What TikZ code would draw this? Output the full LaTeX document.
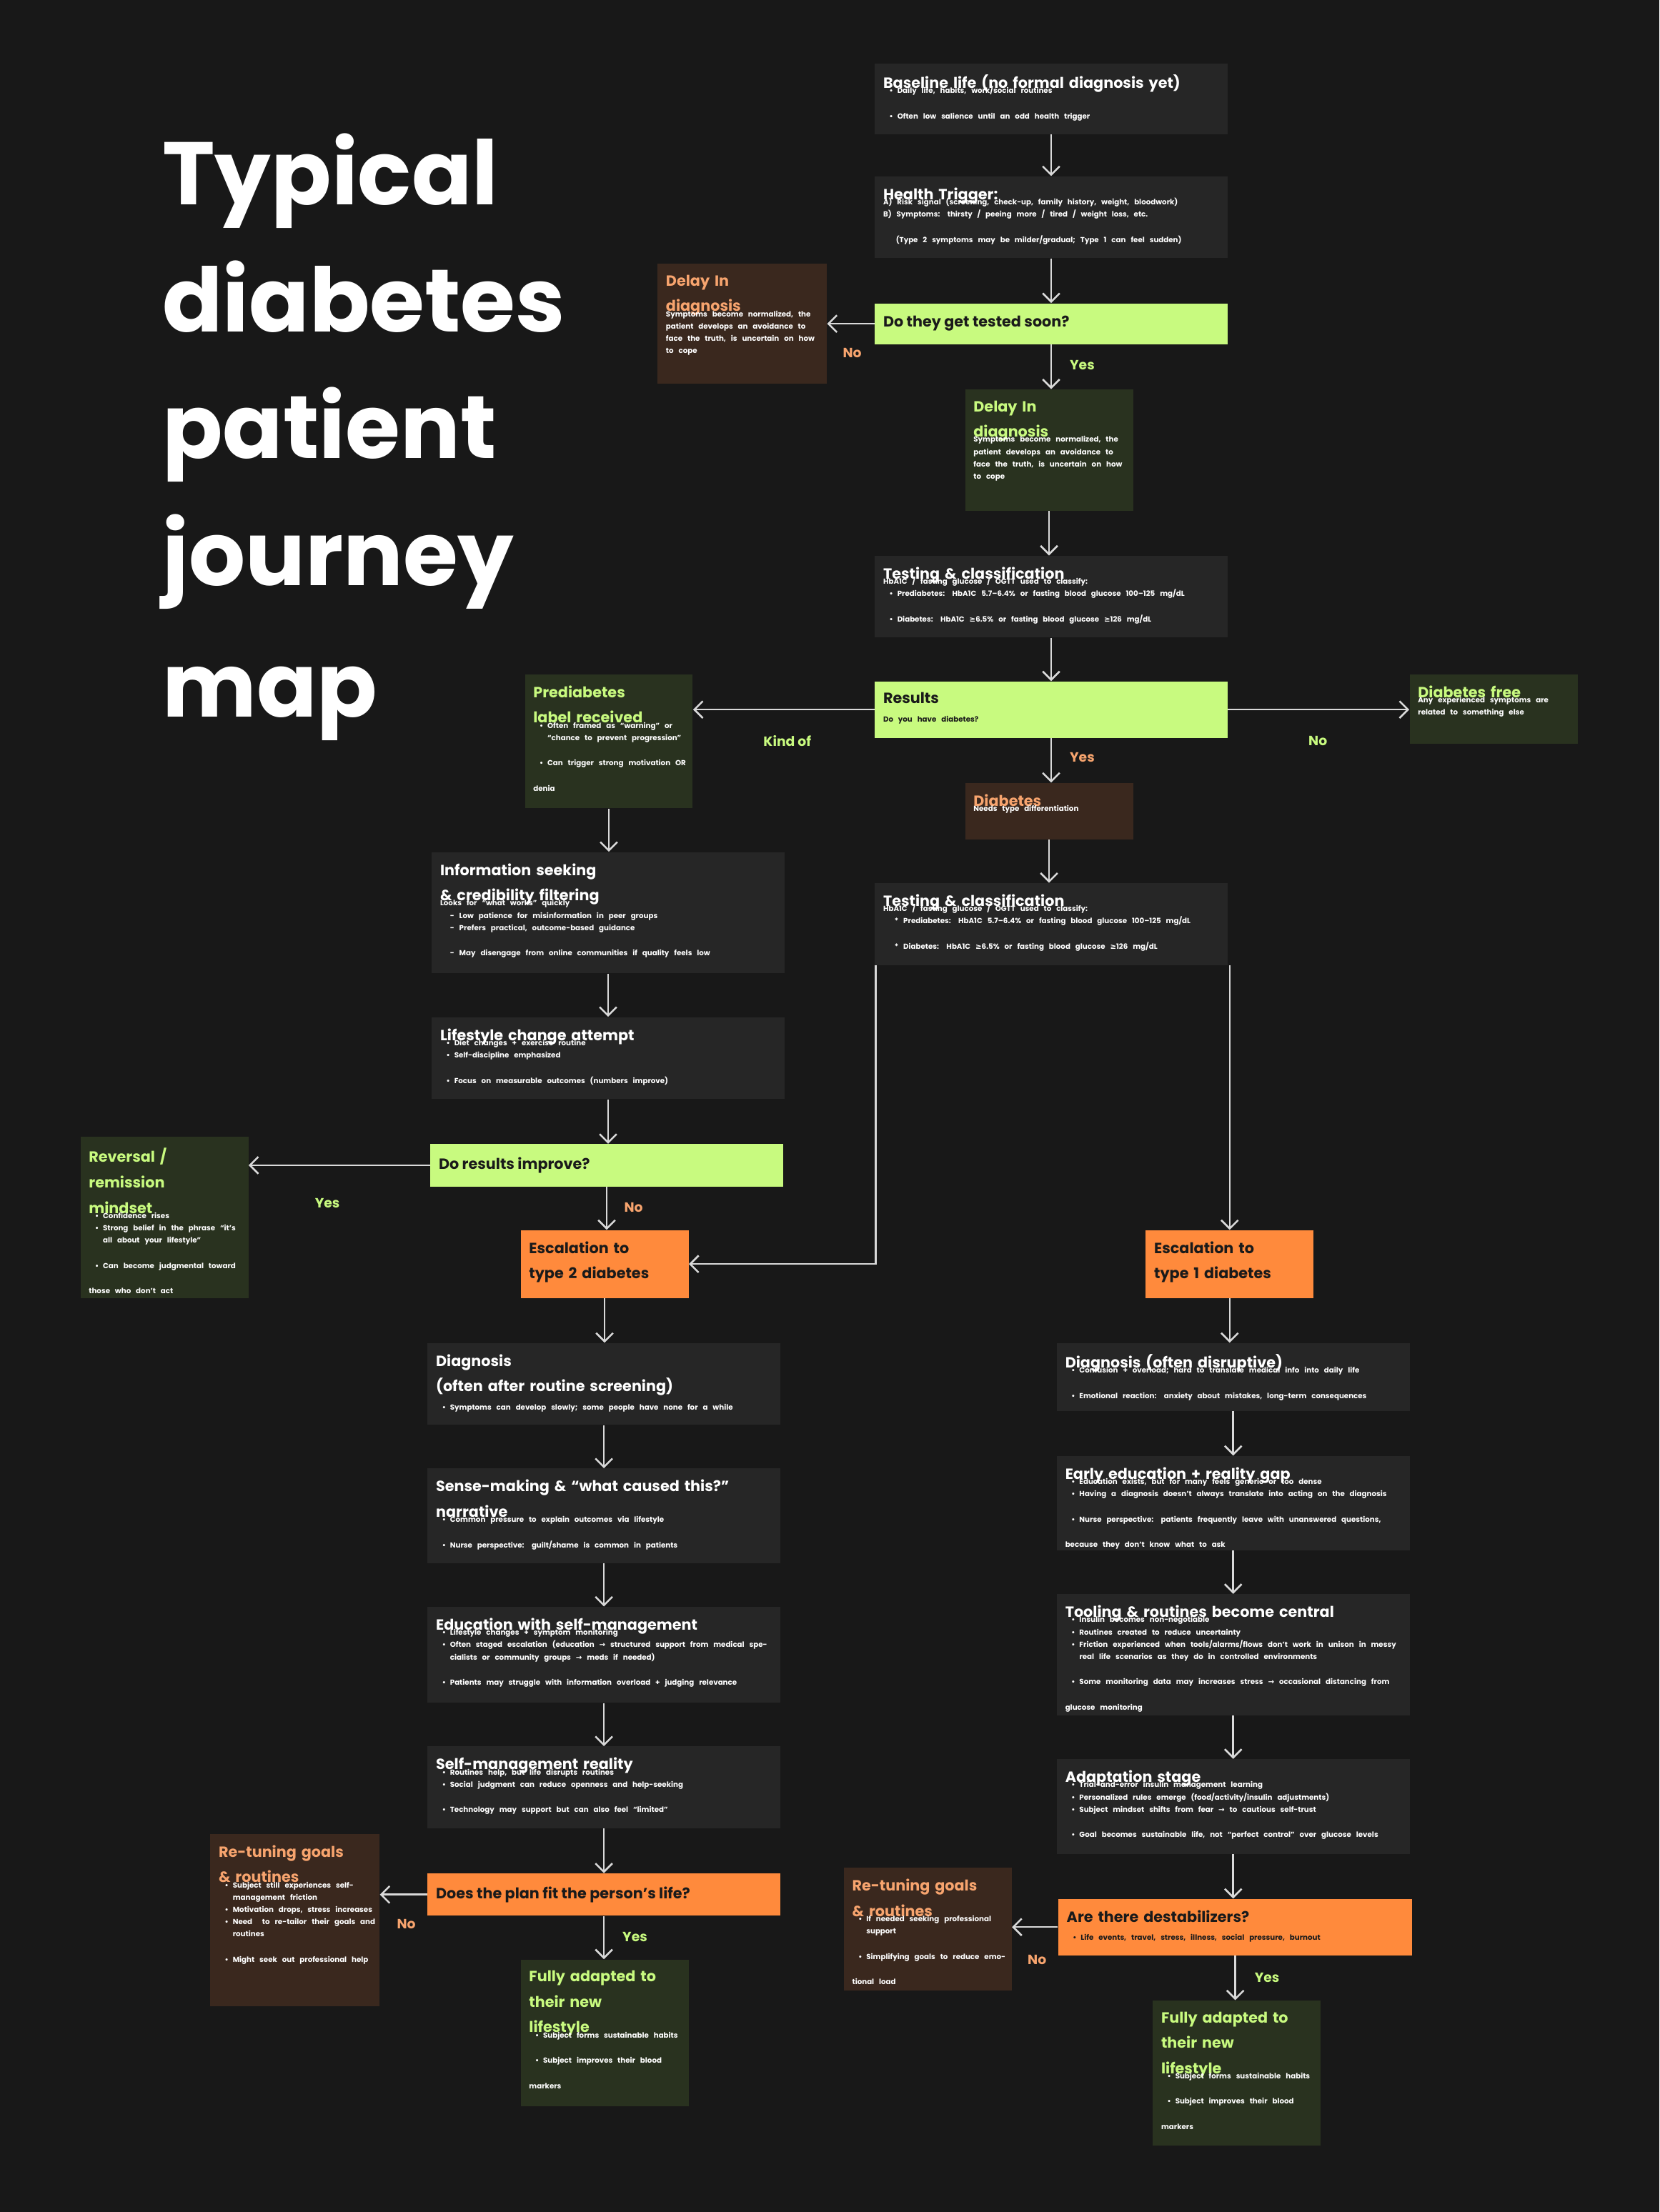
\documentclass[tikz,border=0pt]{standalone}
\usepackage{fontspec}
\setmainfont{Poppins}
\newfontfamily\dv{DejaVu Sans}
\usetikzlibrary{fit,arrows.meta}
\definecolor{bg}{HTML}{181818}
\definecolor{gbox}{HTML}{262626}
\definecolor{lime}{HTML}{C8FA7F}
\definecolor{dgreen}{HTML}{29321F}
\definecolor{brown}{HTML}{3A281E}
\definecolor{orng}{HTML}{FF8A3C}
\definecolor{otxt}{HTML}{F7A46E}
\definecolor{arr}{HTML}{D9D9D9}
\definecolor{dtxt}{HTML}{1A1A1A}
\newcommand\mygeq{{\dv ≥}}
\newcommand\myto{{\dv →}}
\newcommand\bl[1]{\par\noindent\hangindent=10pt\hangafter=1\hbox to 10pt{\hss•\hspace{3pt}}#1}
\newcommand\bx[6]{\node[fit={(#2,#3)(#4,#5)},inner sep=0pt,fill=#6,draw=none] (#1) {};}
\newcommand\bodyf{\fontsize{5.2}{8.7}\selectfont\bfseries}
\tikzset{
  ttl/.style={anchor=north west,inner sep=0pt,align=left,text=white,font=\fontsize{10.5}{18}\selectfont\bfseries},
  link/.style={draw=arr,line width=1.3pt,-{Straight Barb[length=6pt,width=12pt,line width=1.3pt]}},
  lab/.style={font=\fontsize{9.5}{10}\selectfont\bfseries,inner sep=0pt},
  big/.style={anchor=base west,inner sep=0pt,text=white,font=\fontsize{63}{63}\selectfont\bfseries}
}
\begin{document}
\begin{tikzpicture}[x=1pt,y=-1pt]
\fill[bg] (0,0) rectangle (1176,1568);
\useasboundingbox (0,0) rectangle (1176,1568);
% title
\node[big] (t1) at (115,145) {Typical};
\node[big] (t2) at (115,235) {diabetes};
\node[big] (t3) at (115,325) {patient};
\node[big] (t4) at (115,415) {journey};
\node[big] (t5) at (115,508) {map};
% boxes
\bx{base}{620}{45}{870}{95}{gbox}
\bx{trig}{620}{125}{870}{183}{gbox}
\bx{dtest}{620}{215}{870}{244}{lime}
\bx{delo}{466}{187}{586}{272}{brown}
\bx{delg}{684}{276}{803}{362}{dgreen}
\bx{test}{620}{394}{870}{452}{gbox}
\bx{res}{620}{483}{870}{523}{lime}
\bx{pre}{372}{478}{491}{573}{dgreen}
\bx{free}{999}{478}{1118}{527}{dgreen}
\bx{diab}{684}{555}{803}{595}{brown}
\bx{testb}{620}{626}{870}{684}{gbox}
\bx{info}{306}{604}{556}{690}{gbox}
\bx{life}{306}{721}{556}{779}{gbox}
\bx{imp}{305}{811}{555}{841}{lime}
\bx{rev}{57}{806}{176}{920}{dgreen}
\bx{esca}{369}{872}{488}{920}{orng}
\bx{escb}{812}{872}{931}{920}{orng}
\bx{diagl}{303}{952}{553}{1010}{gbox}
\bx{sense}{303}{1041}{553}{1108}{gbox}
\bx{edu}{303}{1139}{553}{1207}{gbox}
\bx{smr}{303}{1238}{553}{1296}{gbox}
\bx{fit}{303}{1328}{553}{1358}{orng}
\bx{retl}{149}{1300}{269}{1422}{brown}
\bx{fall}{369}{1389}{488}{1493}{dgreen}
\bx{diagr}{749}{952}{999}{1000}{gbox}
\bx{early}{749}{1032}{999}{1099}{gbox}
\bx{tool}{749}{1130}{999}{1216}{gbox}
\bx{adapt}{749}{1247}{999}{1314}{gbox}
\bx{dest}{750}{1346}{1001}{1386}{orng}
\bx{retr}{598}{1324}{717}{1411}{brown}
\bx{falr}{817}{1418}{936}{1521}{dgreen}
% texts
\node[ttl,text width=240pt] at ([xshift=6pt,yshift=-8pt]base.north west) {Baseline life (no formal diagnosis yet)\par
 {\bodyf\vspace{-5pt}\bl{Daily life, habits, work/social routines}\bl{Often low salience until an odd health trigger}}};
\node[ttl,text width=240pt] at ([xshift=6pt,yshift=-8pt]trig.north west) {Health Trigger:\par
 {\bodyf\vspace{-5pt}\noindent A) Risk signal (screening, check-up, family history, weight, bloodwork)\par\noindent B) Symptoms: thirsty / peeing more / tired / weight loss, etc.\par\noindent\hspace*{9pt}(Type 2 symptoms may be milder/gradual; Type 1 can feel sudden)}};
\node[ttl,anchor=west,text=dtxt] at ([xshift=6pt]dtest.west) {Do they get tested soon?};
\node[ttl,text width=110pt,text=otxt] at ([xshift=6pt,yshift=-8pt]delo.north west) {Delay In\\diagnosis\par
 {\bodyf\color{white}\vspace{-5pt}\noindent Symptoms become normalized, the patient develops an avoidance to face the truth, is uncertain on how to cope\par}};
\node[ttl,text width=110pt,text=lime] at ([xshift=6pt,yshift=-8pt]delg.north west) {Delay In\\diagnosis\par
 {\bodyf\color{white}\vspace{-5pt}\noindent Symptoms become normalized, the patient develops an avoidance to face the truth, is uncertain on how to cope\par}};
\node[ttl,text width=240pt] at ([xshift=6pt,yshift=-8pt]test.north west) {Testing \& classification\par
 {\bodyf\vspace{-5pt}\noindent HbA1C / fasting glucose / OGTT used to classify:\bl{Prediabetes: HbA1C 5.7–6.4\% or fasting blood glucose 100–125 mg/dL}\bl{Diabetes: HbA1C \mygeq6.5\% or fasting blood glucose \mygeq126 mg/dL}}};
\node[ttl,text width=240pt,text=dtxt] at ([xshift=6pt,yshift=-8pt]res.north west) {Results\par
 {\bodyf\vspace{-5pt}\noindent Do you have diabetes?}};
\node[ttl,text width=110pt,text=lime] at ([xshift=6pt,yshift=-8pt]pre.north west) {Prediabetes\\label received\par
 {\bodyf\color{white}\vspace{-5pt}\bl{Often framed as “warning” or “chance to prevent progression”}\bl{Can trigger strong motivation OR denia}}};
\node[ttl,text width=110pt,text=lime] at ([xshift=6pt,yshift=-8pt]free.north west) {Diabetes free\par
 {\bodyf\color{white}\vspace{-5pt}\noindent Any experienced symptoms are related to something else\par}};
\node[ttl,text width=110pt,text=otxt] at ([xshift=6pt,yshift=-8pt]diab.north west) {Diabetes\par
 {\bodyf\color{white}\vspace{-5pt}\noindent Needs type differentiation\par}};
\node[ttl,text width=240pt] at ([xshift=6pt,yshift=-8pt]testb.north west) {Testing \& classification\par
 {\bodyf\vspace{-5pt}\noindent HbA1C / fasting glucose / OGTT used to classify:\par\noindent\hspace*{8pt}* Prediabetes: HbA1C 5.7–6.4\% or fasting blood glucose 100–125 mg/dL\par\noindent\hspace*{8pt}* Diabetes: HbA1C \mygeq6.5\% or fasting blood glucose \mygeq126 mg/dL}};
\node[ttl,text width=240pt] at ([xshift=6pt,yshift=-8pt]info.north west) {Information seeking\\\& credibility filtering\par
 {\bodyf\vspace{-5pt}\noindent Looks for “what works” quickly\par\noindent\hspace*{7pt}- Low patience for misinformation in peer groups\par\noindent\hspace*{7pt}- Prefers practical, outcome-based guidance\par\noindent\hspace*{7pt}- May disengage from online communities if quality feels low}};
\node[ttl,text width=240pt] at ([xshift=6pt,yshift=-8pt]life.north west) {Lifestyle change attempt\par
 {\bodyf\vspace{-5pt}\bl{Diet changes + exercise routine}\bl{Self-discipline emphasized}\bl{Focus on measurable outcomes (numbers improve)}}};
\node[ttl,anchor=west,text=dtxt] at ([xshift=6pt]imp.west) {Do results improve?};
\node[ttl,text width=110pt,text=lime] at ([xshift=6pt,yshift=-8pt]rev.north west) {Reversal /\\remission\\mindset\par
 {\bodyf\color{white}\vspace{-5pt}\bl{Confidence rises}\bl{Strong belief in the phrase “it’s all about your lifestyle”}\bl{Can become judgmental toward those who don’t act}}};
\node[ttl,text width=110pt,text=dtxt] at ([xshift=6pt,yshift=-8pt]esca.north west) {Escalation to\\type 2 diabetes};
\node[ttl,text width=110pt,text=dtxt] at ([xshift=6pt,yshift=-8pt]escb.north west) {Escalation to\\type 1 diabetes};
\node[ttl,text width=240pt] at ([xshift=6pt,yshift=-8pt]diagl.north west) {Diagnosis\\(often after routine screening)\par
 {\bodyf\vspace{-5pt}\bl{Symptoms can develop slowly; some people have none for a while}}};
\node[ttl,text width=240pt] at ([xshift=6pt,yshift=-8pt]sense.north west) {Sense-making \& “what caused this?”\\narrative\par
 {\bodyf\vspace{-5pt}\bl{Common pressure to explain outcomes via lifestyle}\bl{Nurse perspective: guilt/shame is common in patients}}};
\node[ttl,text width=240pt] at ([xshift=6pt,yshift=-8pt]edu.north west) {Education with self-management\par
 {\bodyf\vspace{-5pt}\bl{Lifestyle changes + symptom monitoring}\bl{Often staged escalation (education \myto\ structured support from medical specialists or community groups \myto\ meds if needed)}\bl{Patients may struggle with information overload + judging relevance}}};
\node[ttl,text width=240pt] at ([xshift=6pt,yshift=-8pt]smr.north west) {Self-management reality\par
 {\bodyf\vspace{-5pt}\bl{Routines help, but life disrupts routines}\bl{Social judgment can reduce openness and help-seeking}\bl{Technology may support but can also feel “limited”}}};
\node[ttl,anchor=west,text=dtxt] at ([xshift=6pt]fit.west) {Does the plan fit the person’s life?};
\node[ttl,text width=112pt,text=otxt] at ([xshift=6pt,yshift=-8pt]retl.north west) {Re-tuning goals\\\& routines\par
 {\bodyf\color{white}\vspace{-5pt}\bl{Subject still experiences self-management friction}\bl{Motivation drops, stress increases}\bl{Need\ \ to re-tailor their goals and routines}\bl{Might seek out professional help}}};
\node[ttl,text width=110pt,text=lime] at ([xshift=6pt,yshift=-8pt]fall.north west) {Fully adapted to\\their new\\lifestyle\par
 {\bodyf\color{white}\vspace{-5pt}\bl{Subject forms sustainable habits}\bl{Subject improves their blood markers}}};
\node[ttl,text width=240pt] at ([xshift=6pt,yshift=-8pt]diagr.north west) {Diagnosis (often disruptive)\par
 {\bodyf\vspace{-5pt}\bl{Confusion + overload; hard to translate medical info into daily life}\bl{Emotional reaction: anxiety about mistakes, long-term consequences}}};
\node[ttl,text width=240pt] at ([xshift=6pt,yshift=-8pt]early.north west) {Early education + reality gap\par
 {\bodyf\vspace{-5pt}\bl{Education exists, but for many feels generic or too dense}\bl{Having a diagnosis doesn’t always translate into acting on the diagnosis}\bl{Nurse perspective: patients frequently leave with unanswered questions, because they don’t know what to ask}}};
\node[ttl,text width=240pt] at ([xshift=6pt,yshift=-8pt]tool.north west) {Tooling \& routines become central\par
 {\bodyf\vspace{-5pt}\bl{Insulin becomes non-negotiable}\bl{Routines created to reduce uncertainty}\bl{Friction experienced when tools/alarms/flows don’t work in unison in messy real life scenarios as they do in controlled environments}\bl{Some monitoring data may increases stress \myto\ occasional distancing from glucose monitoring}}};
\node[ttl,text width=240pt] at ([xshift=6pt,yshift=-8pt]adapt.north west) {Adaptation stage\par
 {\bodyf\vspace{-5pt}\bl{Trial-and-error insulin management learning}\bl{Personalized rules emerge (food/activity/insulin adjustments)}\bl{Subject mindset shifts from fear \myto\ to cautious self-trust}\bl{Goal becomes sustainable life, not “perfect control” over glucose levels}}};
\node[ttl,text width=240pt,text=dtxt] at ([xshift=6pt,yshift=-8pt]dest.north west) {Are there destabilizers?\par
 {\bodyf\vspace{-5pt}\bl{Life events, travel, stress, illness, social pressure, burnout}}};
\node[ttl,text width=112pt,text=otxt] at ([xshift=6pt,yshift=-8pt]retr.north west) {Re-tuning goals\\\& routines\par
 {\bodyf\color{white}\vspace{-5pt}\bl{If needed seeking professional support}\bl{Simplifying goals to reduce emotional load}}};
\node[ttl,text width=110pt,text=lime] at ([xshift=6pt,yshift=-8pt]falr.north west) {Fully adapted to\\their new\\lifestyle\par
 {\bodyf\color{white}\vspace{-5pt}\bl{Subject forms sustainable habits}\bl{Subject improves their blood markers}}};
% connectors
\draw[link] (base.south) -- (base.south |- trig.north);
\draw[link] (trig.south) -- (trig.south |- dtest.north);
\draw[link] (dtest.west) -- (dtest.west -| delo.east);
\draw[link] (dtest.south) -- (dtest.south |- delg.north);
\draw[link] (delg.south) -- (delg.south |- test.north);
\draw[link] (test.south) -- (test.south |- res.north);
\draw[link] (res.west) -- (res.west -| pre.east);
\draw[link] (res.east) -- (res.east -| free.west);
\draw[link] (res.south) -- (res.south |- diab.north);
\draw[link] (diab.south) -- (diab.south |- testb.north);
\draw[link] (pre.south) -- (pre.south |- info.north);
\draw[link] (info.south) -- (info.south |- life.north);
\draw[link] (life.south) -- (life.south |- imp.north);
\draw[link] (imp.west) -- (imp.west -| rev.east);
\draw[link] (imp.south) -- (imp.south |- esca.north);
\draw[link] ([xshift=1pt]testb.south west) |- (esca.east);
\draw[link] (testb.south -| escb.north) -- (escb.north);
\draw[link] (esca.south) -- (esca.south |- diagl.north);
\draw[link] (diagl.south) -- (diagl.south |- sense.north);
\draw[link] (sense.south) -- (sense.south |- edu.north);
\draw[link] (edu.south) -- (edu.south |- smr.north);
\draw[link] (smr.south) -- (smr.south |- fit.north);
\draw[link] (fit.west) -- (fit.west -| retl.east);
\draw[link] (fit.south) -- (fit.south |- fall.north);
\draw[link] (escb.south) -- (escb.south |- diagr.north);
\draw[link] (diagr.south) -- (diagr.south |- early.north);
\draw[link] (early.south) -- (early.south |- tool.north);
\draw[link] (tool.south) -- (tool.south |- adapt.north);
\draw[link] (adapt.south) -- (adapt.south |- dest.north);
\draw[link] (dest.west) -- (dest.west -| retr.east);
\draw[link] (dest.south) -- (dest.south |- falr.north);
% labels
\node[lab,text=otxt] (l1) at (604,250) {No};
\node[lab,text=lime] (l2) at (767,259) {Yes};
\node[lab,text=lime] (l3) at (558,525) {Kind of};
\node[lab,text=lime] (l4) at (934,525) {No};
\node[lab,text=otxt] (l5) at (767,537) {Yes};
\node[lab,text=lime] (l6) at (232,853) {Yes};
\node[lab,text=otxt] (l7) at (449,856) {No};
\node[lab,text=otxt] (l8) at (288,1364) {No};
\node[lab,text=lime] (l9) at (450,1373) {Yes};
\node[lab,text=otxt] (l10) at (735,1389) {No};
\node[lab,text=lime] (l11) at (898,1402) {Yes};
\end{tikzpicture}
\end{document}
